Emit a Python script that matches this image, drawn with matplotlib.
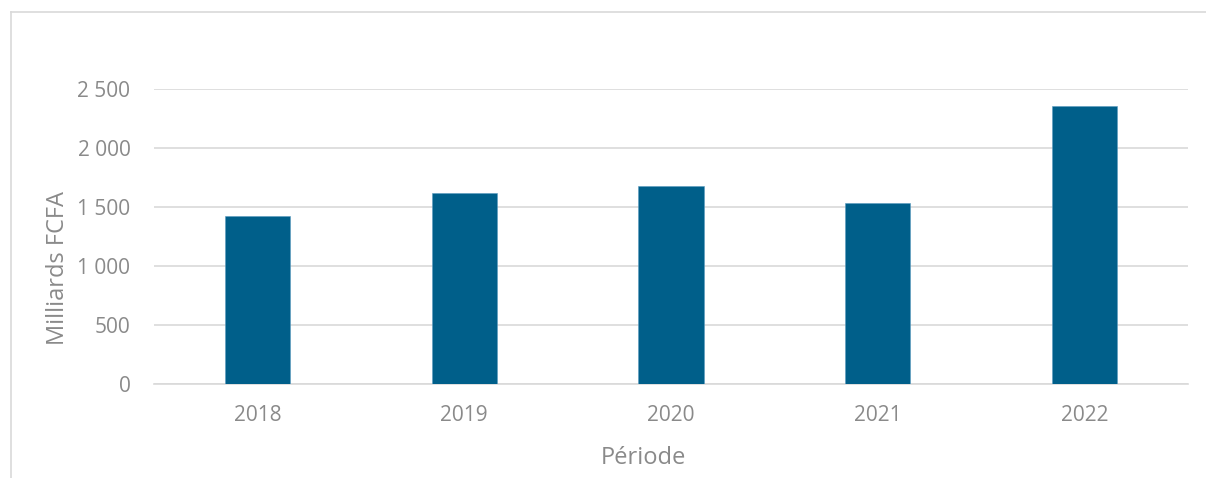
import matplotlib
matplotlib.use("Agg")
import matplotlib.pyplot as plt
from matplotlib.ticker import FuncFormatter, MultipleLocator
from matplotlib.lines import Line2D
import numpy as np

plt.rcParams['font.family'] = ['Open Sans', 'DejaVu Sans']

# Data
years = ["2018", "2019", "2020", "2021", "2022"]
values = [1420, 1620, 1680, 1532, 2355]

BAR_COLOR = "#005F8A"
TEXT_COLOR = "#8A8A8A"
GRID_COLOR = "#D9D9D9"

W, H = 1206, 478
fig = plt.figure(figsize=(W / 100, H / 100), dpi=100)
ax = fig.add_axes([154 / W, 1 - 384 / H, (1188 - 154) / W, (384 - 89) / H])

x = np.arange(len(years))
ax.bar(x, values, width=0.315, color=BAR_COLOR, edgecolor="#5B9BBF", linewidth=0.4, zorder=3)

ax.set_xlim(-0.5, len(years) - 0.5)
ax.set_ylim(0, 2500)
ax.yaxis.set_major_locator(MultipleLocator(500))
ax.yaxis.set_major_formatter(FuncFormatter(lambda v, p: f"{int(v):,}".replace(",", " ")))
ax.set_xticks(x)
ax.set_xticklabels(years)

ax.grid(axis="y", color=GRID_COLOR, linewidth=1.2, zorder=0)
ax.set_axisbelow(True)
for side in ["top", "right", "left"]:
    ax.spines[side].set_visible(False)
ax.spines["bottom"].set_color(GRID_COLOR)
ax.spines["bottom"].set_linewidth(1.2)

ax.tick_params(axis="both", length=0, labelsize=15, labelcolor=TEXT_COLOR)
ax.tick_params(axis="y", pad=17)
ax.tick_params(axis="x", pad=15)

# axis titles
fig.text(58 / W, 1 - 268 / H, "Milliards FCFA", rotation=90, ha="center", va="center",
         fontsize=17, color=TEXT_COLOR)
fig.text(643 / W, 1 - 458 / H, "Période", ha="center", va="center",
         fontsize=17, color=TEXT_COLOR)

# chart frame (left and top visible)
fig.add_artist(Line2D([10.5 / W, 10.5 / W], [0, 1 - 12 / H], transform=fig.transFigure,
                      color=GRID_COLOR, linewidth=1.2))
fig.add_artist(Line2D([10.5 / W, 1], [1 - 12 / H, 1 - 12 / H], transform=fig.transFigure,
                      color=GRID_COLOR, linewidth=1.2))

fig.savefig("out.png", dpi=100)
